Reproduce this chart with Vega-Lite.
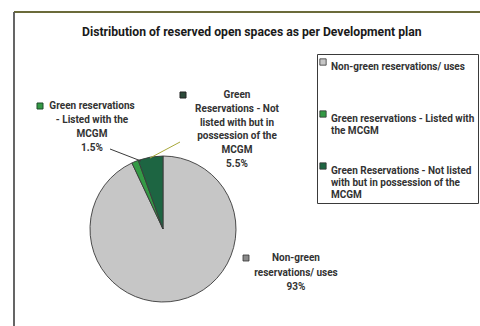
{
  "$schema": "https://vega.github.io/schema/vega-lite/v6.json",
  "width": 480,
  "height": 326,
  "padding": 0,
  "autosize": {"type": "none"},
  "background": "#ffffff",
  "config": {"view": {"stroke": null}, "font": "Roboto"},
  "datasets": {
    "slices": [
      {"order": 1, "category": "Non-green reservations/ uses", "value": 93, "label": "Non-green\nreservations/ uses\n93%"},
      {"order": 2, "category": "Green reservations - Listed with the MCGM", "value": 1.5, "label": "Green reservations\n- Listed with the\nMCGM\n1.5%"},
      {"order": 3, "category": "Green Reservations - Not listed with but in possession of the MCGM", "value": 5.5, "label": "Green\nReservations - Not\nlisted with but in\npossession of the\nMCGM\n5.5%"}
    ]
  },
  "title": {
    "text": "Distribution of reserved open spaces as per Development plan",
    "anchor": "start",
    "orient": "none",
    "dx": 82,
    "dy": 26,
    "fontSize": 12.2,
    "fontWeight": "bold",
    "color": "#1a1a1a",
    "font": "Roboto"
  },
  "layer": [
    {
      "data": {"values": [{"frame": 1}]},
      "mark": {"type": "rule", "stroke": "#6b6b3a", "strokeWidth": 1.8},
      "encoding": {
        "x": {"datum": 14, "type": "quantitative", "scale": {"domain": [0, 480], "nice": false, "zero": false}, "axis": null},
        "x2": {"datum": 480},
        "y": {"datum": 12, "type": "quantitative", "scale": {"domain": [0, 326], "reverse": true, "nice": false, "zero": false}, "axis": null},
        "y2": {"datum": 12}
      }
    },
    {
      "data": {"values": [{"frame": 1}]},
      "mark": {"type": "rule", "stroke": "#555555", "strokeWidth": 1.8},
      "encoding": {
        "x": {"datum": 14, "type": "quantitative"},
        "x2": {"datum": 14},
        "y": {"datum": 12, "type": "quantitative"},
        "y2": {"datum": 326}
      }
    },
    {
      "data": {"name": "slices"},
      "mark": {"type": "arc", "outerRadius": 73, "stroke": "#3a3a3a", "strokeWidth": 0.9},
      "encoding": {
        "theta": {"field": "value", "type": "quantitative", "stack": true},
        "order": {"field": "order", "type": "quantitative"},
        "x": {"datum": 163, "type": "quantitative"},
        "y": {"datum": 229, "type": "quantitative"},
        "color": {
          "field": "category",
          "type": "nominal",
          "scale": {
            "domain": ["Non-green reservations/ uses", "Green reservations - Listed with the MCGM", "Green Reservations - Not listed with but in possession of the MCGM"],
            "range": ["#c6c6c6", "#349a45", "#1d6542"]
          },
          "legend": {
            "title": null,
            "orient": "none",
            "legendX": 317,
            "legendY": 54,
            "direction": "vertical",
            "gridAlign": "all",
            "symbolType": "square",
            "symbolSize": 40,
            "symbolStrokeColor": "#333333",
            "symbolStrokeWidth": 0.8,
            "symbolOffset": -2,
            "labelFontSize": 10,
            "labelFontWeight": "bold",
            "labelColor": "#333333",
            "labelLimit": 200,
            "labelBaseline": "top",
            "labelOffset": 3,
            "rowPadding": 13,
            "padding": 3,
            "strokeColor": "#3a3a3a",
            "fillColor": "#ffffff",
            "labelExpr": "datum.value == 'Non-green reservations/ uses' ? 'Non-green reservations/ uses' : datum.value == 'Green reservations - Listed with the MCGM' ? ['Green reservations - Listed with', 'the MCGM'] : ['Green Reservations - Not listed', 'with but in possession of the', 'MCGM']"
          }
        }
      }
    },
    {
      "data": {"values": [{"p": 1}]},
      "mark": {"type": "rule", "stroke": "#3a3a3a", "strokeWidth": 1},
      "encoding": {"x": {"datum": 110, "type": "quantitative"}, "y": {"datum": 149, "type": "quantitative"}, "x2": {"datum": 141}, "y2": {"datum": 161}}
    },
    {
      "data": {"values": [{"p": 1}]},
      "mark": {"type": "rule", "stroke": "#a8a83a", "strokeWidth": 1},
      "encoding": {"x": {"datum": 150, "type": "quantitative"}, "y": {"datum": 158, "type": "quantitative"}, "x2": {"datum": 180}, "y2": {"datum": 142}}
    },
    {
      "data": {"name": "slices"},
      "transform": [{"filter": "datum.order == 1"}],
      "mark": {"type": "text", "lineBreak": "\n", "fontSize": 10, "fontWeight": "bold", "color": "#333333", "align": "center", "baseline": "middle", "lineHeight": 14.5},
      "encoding": {"x": {"datum": 296, "type": "quantitative"}, "y": {"datum": 258, "type": "quantitative"}, "text": {"field": "label"}}
    },
    {
      "data": {"name": "slices"},
      "transform": [{"filter": "datum.order == 2"}],
      "mark": {"type": "text", "lineBreak": "\n", "fontSize": 10, "fontWeight": "bold", "color": "#333333", "align": "center", "baseline": "middle", "lineHeight": 14},
      "encoding": {"x": {"datum": 92, "type": "quantitative"}, "y": {"datum": 106, "type": "quantitative"}, "text": {"field": "label"}}
    },
    {
      "data": {"name": "slices"},
      "transform": [{"filter": "datum.order == 3"}],
      "mark": {"type": "text", "lineBreak": "\n", "fontSize": 10, "fontWeight": "bold", "color": "#333333", "align": "center", "baseline": "middle", "lineHeight": 13.8},
      "encoding": {"x": {"datum": 237, "type": "quantitative"}, "y": {"datum": 95, "type": "quantitative"}, "text": {"field": "label"}}
    },
    {
      "data": {"name": "slices"},
      "transform": [{"filter": "datum.order == 1"}],
      "mark": {"type": "point", "shape": "square", "size": 36, "filled": true, "stroke": "#333333", "strokeWidth": 0.8, "opacity": 1},
      "encoding": {"x": {"datum": 246, "type": "quantitative"}, "y": {"datum": 258, "type": "quantitative"}, "fill": {"value": "#8a8a8a"}}
    },
    {
      "data": {"name": "slices"},
      "transform": [{"filter": "datum.order == 2"}],
      "mark": {"type": "point", "shape": "square", "size": 36, "filled": true, "stroke": "#1d4a2a", "strokeWidth": 1, "opacity": 1},
      "encoding": {"x": {"datum": 40, "type": "quantitative"}, "y": {"datum": 106, "type": "quantitative"}, "fill": {"value": "#349a45"}}
    },
    {
      "data": {"name": "slices"},
      "transform": [{"filter": "datum.order == 3"}],
      "mark": {"type": "point", "shape": "square", "size": 36, "filled": true, "stroke": "#222222", "strokeWidth": 1, "opacity": 1},
      "encoding": {"x": {"datum": 183, "type": "quantitative"}, "y": {"datum": 95, "type": "quantitative"}, "fill": {"value": "#2c4a3a"}}
    }
  ]
}
